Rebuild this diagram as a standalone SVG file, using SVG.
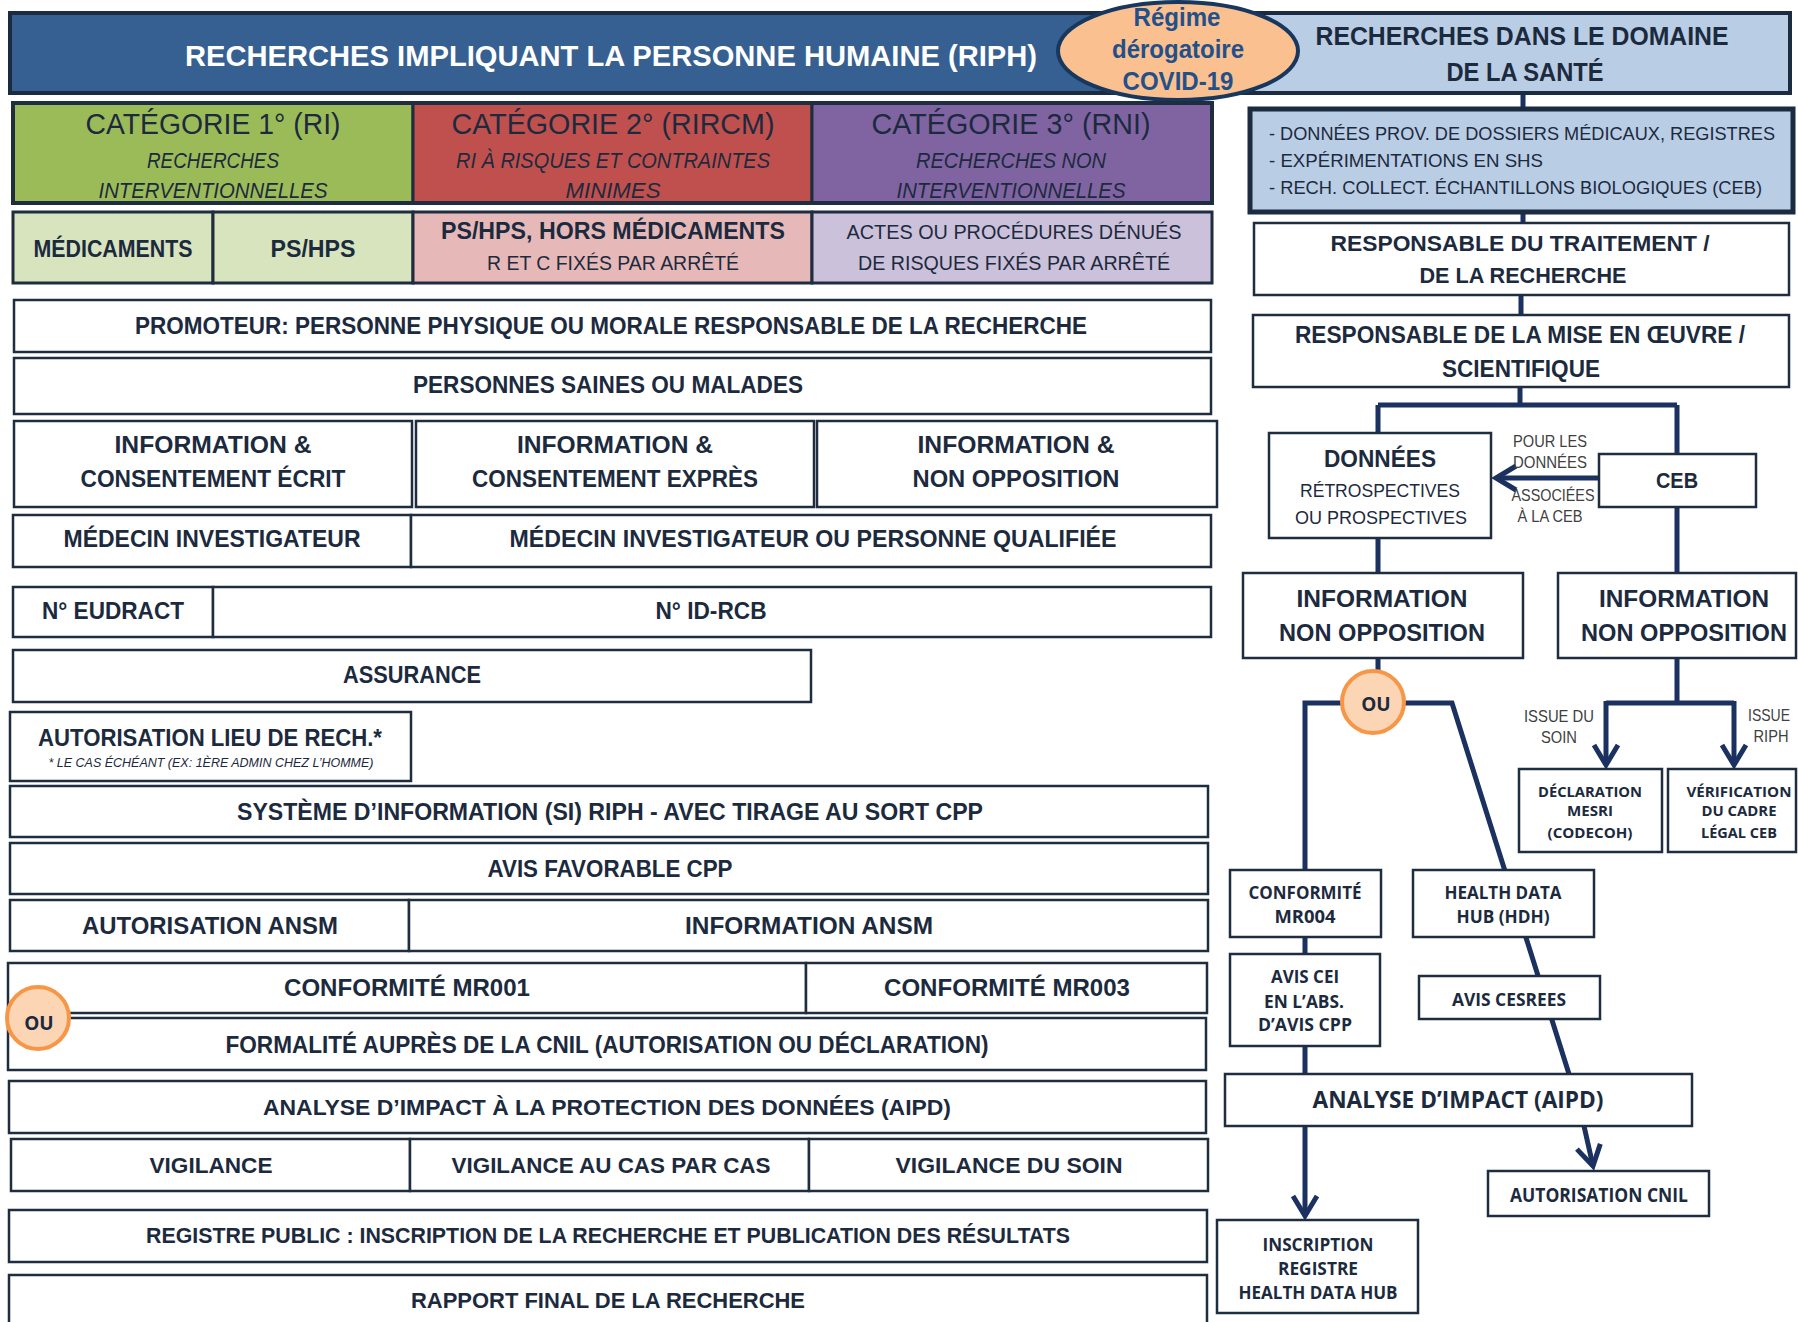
<svg xmlns="http://www.w3.org/2000/svg" width="1798" height="1322" viewBox="0 0 1798 1322">
<defs>
<style>
.t{font-family:"Liberation Sans Narrow","Liberation Sans",Arial,sans-serif;fill:#1C2A3E;text-anchor:middle}
.b{font-weight:bold}
.i{font-style:italic}
.o{font-family:"Open Sans","Liberation Sans",Arial,sans-serif;font-weight:bold;fill:#1C2A3E;text-anchor:middle}
.box{fill:#fff;stroke:#1F2D40;stroke-width:2.5}
.con{fill:none;stroke:#1B3160;stroke-width:5}
.lbl{font-family:"Liberation Sans Narrow","Liberation Sans",Arial,sans-serif;fill:#404040;text-anchor:middle}
.ou{fill:#FCD5B4;stroke:#F79646;stroke-width:4}
</style>
<marker id="ah" markerUnits="userSpaceOnUse" markerWidth="24" markerHeight="26" refX="20" refY="12" orient="auto" overflow="visible"><path d="M0,0 L20,12 L0,24" fill="none" stroke="#1B3160" stroke-width="5"/></marker>
</defs>
<rect width="1798" height="1322" fill="#fff"/>

<g id="connectors">
<path class="con" d="M1523,93 V109 M1523,212 V223 M1521,295 V315 M1520,387 V405 M1378,405 H1677 M1378,405 V433 M1677,405 V454"/>
<path class="con" d="M1599,478 H1496" marker-end="url(#ah)"/>
<path class="con" d="M1378,538 V573 M1677,507 V573 M1378,658 V672"/>
<path class="con" d="M1305,870 V703 H1452 L1569,1074"/>
<path class="con" d="M1305,937 V954 M1305,1046 V1074"/>
<path class="con" d="M1305,1126 V1216" marker-end="url(#ah)"/>
<path class="con" d="M1584,1126 L1593,1166" marker-end="url(#ah)"/>
<path class="con" d="M1677,658 V703 M1606,703 H1734"/>
<path class="con" d="M1606,701 V765" marker-end="url(#ah)"/>
<path class="con" d="M1734,701 V765" marker-end="url(#ah)"/>
</g>

<g id="riph-banner">
<rect x="10" y="13" width="1250" height="80" fill="#376092" stroke="#1B2B40" stroke-width="4"/>
<text class="t b" x="611" y="66" font-size="29" style="fill:#fff" textLength="852" lengthAdjust="spacingAndGlyphs">RECHERCHES IMPLIQUANT LA PERSONNE HUMAINE (RIPH)</text>
</g>
<g id="sante-header">
<rect x="1253" y="13" width="537" height="80" fill="#B9CDE5" stroke="#1B2B40" stroke-width="4"/>
<text class="t b" x="1522" y="45" font-size="25" textLength="413" lengthAdjust="spacingAndGlyphs">RECHERCHES DANS  LE DOMAINE</text>
<text class="t b" x="1525" y="81" font-size="25" textLength="157" lengthAdjust="spacingAndGlyphs">DE LA SANTÉ</text>
</g>
<g id="covid">
<ellipse cx="1178" cy="51" rx="120" ry="49" fill="#FAC090" stroke="#17375E" stroke-width="4"/>
<text class="t" x="1177" y="26" font-size="25" style="fill:#24508A;font-weight:600" textLength="87" lengthAdjust="spacingAndGlyphs">Régime</text>
<text class="t" x="1178" y="58" font-size="25" style="fill:#24508A;font-weight:600" textLength="132" lengthAdjust="spacingAndGlyphs">dérogatoire</text>
<text class="t" x="1178" y="90" font-size="25" style="fill:#24508A;font-weight:600" textLength="111" lengthAdjust="spacingAndGlyphs">COVID-19</text>
</g>

<g id="cat1">
<rect x="13" y="103" width="400" height="100" fill="#9BBB59" stroke="#1F2D40" stroke-width="3"/>
<text class="t" x="213" y="134" font-size="29" textLength="255" lengthAdjust="spacingAndGlyphs">CATÉGORIE 1° (RI)</text>
<text class="t i" x="213" y="168" font-size="22" textLength="132" lengthAdjust="spacingAndGlyphs">RECHERCHES</text>
<text class="t i" x="213" y="198" font-size="22" textLength="229" lengthAdjust="spacingAndGlyphs">INTERVENTIONNELLES</text>
</g>
<g id="cat2">
<rect x="413" y="103" width="399" height="100" fill="#C0504D" stroke="#1F2D40" stroke-width="3"/>
<text class="t" x="613" y="134" font-size="29" textLength="323" lengthAdjust="spacingAndGlyphs">CATÉGORIE 2° (RIRCM)</text>
<text class="t i" x="613" y="168" font-size="22" textLength="314" lengthAdjust="spacingAndGlyphs">RI À RISQUES ET CONTRAINTES</text>
<text class="t i" x="613" y="198" font-size="22" textLength="95" lengthAdjust="spacingAndGlyphs">MINIMES</text>
</g>
<g id="cat3">
<rect x="812" y="103" width="400" height="100" fill="#8064A2" stroke="#1F2D40" stroke-width="3"/>
<text class="t" x="1011" y="134" font-size="29" textLength="279" lengthAdjust="spacingAndGlyphs">CATÉGORIE 3° (RNI)</text>
<text class="t i" x="1011" y="168" font-size="22" textLength="190" lengthAdjust="spacingAndGlyphs">RECHERCHES NON</text>
<text class="t i" x="1011" y="198" font-size="22" textLength="229" lengthAdjust="spacingAndGlyphs">INTERVENTIONNELLES</text>
</g>
<rect x="13" y="103" width="1199" height="100" fill="none" stroke="#1F2D40" stroke-width="4"/>

<g id="medicaments">
<rect x="13" y="212" width="200" height="71" fill="#D7E4BD" stroke="#1F2D40" stroke-width="3"/>
<text class="t b" x="113" y="257" font-size="23" textLength="159" lengthAdjust="spacingAndGlyphs">MÉDICAMENTS</text>
</g>
<g id="pshps">
<rect x="213" y="212" width="200" height="71" fill="#D7E4BD" stroke="#1F2D40" stroke-width="3"/>
<text class="t b" x="313" y="257" font-size="23" textLength="85" lengthAdjust="spacingAndGlyphs">PS/HPS</text>
</g>
<g id="pshps-hors">
<rect x="413" y="212" width="399" height="71" fill="#E6B9B8" stroke="#1F2D40" stroke-width="3"/>
<text class="t b" x="613" y="239" font-size="23" textLength="344" lengthAdjust="spacingAndGlyphs">PS/HPS, HORS MÉDICAMENTS</text>
<text class="t" x="613" y="270" font-size="20" textLength="252" lengthAdjust="spacingAndGlyphs">R ET C FIXÉS PAR ARRÊTÉ</text>
</g>
<g id="actes">
<rect x="812" y="212" width="400" height="71" fill="#CCC1DA" stroke="#1F2D40" stroke-width="3"/>
<text class="t" x="1014" y="239" font-size="20" textLength="335" lengthAdjust="spacingAndGlyphs">ACTES OU PROCÉDURES DÉNUÉS</text>
<text class="t" x="1014" y="270" font-size="20" textLength="312" lengthAdjust="spacingAndGlyphs">DE RISQUES FIXÉS PAR ARRÊTÉ</text>
</g>

<g id="promoteur"><rect class="box" x="14" y="300" width="1197" height="52"/>
<text class="t b" x="611" y="334" font-size="23" textLength="952" lengthAdjust="spacingAndGlyphs">PROMOTEUR: PERSONNE PHYSIQUE OU MORALE RESPONSABLE DE LA RECHERCHE</text></g>
<g id="personnes"><rect class="box" x="14" y="358" width="1197" height="56"/>
<text class="t b" x="608" y="393" font-size="23" textLength="390" lengthAdjust="spacingAndGlyphs">PERSONNES SAINES OU MALADES</text></g>
<g id="info-ecrit"><rect class="box" x="14" y="421" width="398" height="86"/>
<text class="t b" x="213" y="453" font-size="24" textLength="197" lengthAdjust="spacingAndGlyphs">INFORMATION &amp;</text>
<text class="t b" x="213" y="487" font-size="24" textLength="265" lengthAdjust="spacingAndGlyphs">CONSENTEMENT ÉCRIT</text></g>
<g id="info-expres"><rect class="box" x="416" y="421" width="398" height="86"/>
<text class="t b" x="615" y="453" font-size="24" textLength="196" lengthAdjust="spacingAndGlyphs">INFORMATION &amp;</text>
<text class="t b" x="615" y="487" font-size="24" textLength="286" lengthAdjust="spacingAndGlyphs">CONSENTEMENT EXPRÈS</text></g>
<g id="info-nonopp"><rect class="box" x="817" y="421" width="400" height="86"/>
<text class="t b" x="1016" y="453" font-size="24" textLength="197" lengthAdjust="spacingAndGlyphs">INFORMATION &amp;</text>
<text class="t b" x="1016" y="487" font-size="24" textLength="207" lengthAdjust="spacingAndGlyphs">NON OPPOSITION</text></g>
<g id="medecin"><rect class="box" x="13" y="515" width="398" height="52"/>
<text class="t b" x="212" y="547" font-size="23" textLength="297" lengthAdjust="spacingAndGlyphs">MÉDECIN INVESTIGATEUR</text></g>
<g id="medecin-qualifie"><rect class="box" x="411" y="515" width="800" height="52"/>
<text class="t b" x="813" y="547" font-size="23" textLength="607" lengthAdjust="spacingAndGlyphs">MÉDECIN INVESTIGATEUR  OU PERSONNE QUALIFIÉE</text></g>
<g id="eudract"><rect class="box" x="13" y="587" width="200" height="50"/>
<text class="t b" x="113" y="619" font-size="23" textLength="142" lengthAdjust="spacingAndGlyphs">N° EUDRACT</text></g>
<g id="idrcb"><rect class="box" x="213" y="587" width="998" height="50"/>
<text class="t b" x="711" y="619" font-size="23" textLength="111" lengthAdjust="spacingAndGlyphs">N° ID-RCB</text></g>
<g id="assurance"><rect class="box" x="13" y="650" width="798" height="52"/>
<text class="t b" x="412" y="683" font-size="23" textLength="138" lengthAdjust="spacingAndGlyphs">ASSURANCE</text></g>
<g id="autorisation-lieu"><rect class="box" x="10" y="712" width="401" height="69"/>
<text class="t b" x="210" y="746" font-size="23" textLength="344" lengthAdjust="spacingAndGlyphs">AUTORISATION LIEU DE RECH.*</text>
<text class="t i" x="211" y="767" font-size="12" textLength="325" lengthAdjust="spacingAndGlyphs">* LE CAS ÉCHÉANT (EX: 1ÈRE ADMIN CHEZ L’HOMME)</text></g>
<g id="si-riph"><rect class="box" x="10" y="786" width="1198" height="51"/>
<text class="t b" x="610" y="820" font-size="23" textLength="746" lengthAdjust="spacingAndGlyphs">SYSTÈME D’INFORMATION (SI) RIPH - AVEC TIRAGE AU SORT CPP</text></g>
<g id="avis-cpp"><rect class="box" x="10" y="843" width="1198" height="51"/>
<text class="t b" x="610" y="877" font-size="23" textLength="245" lengthAdjust="spacingAndGlyphs">AVIS FAVORABLE CPP</text></g>
<g id="aut-ansm"><rect class="box" x="10" y="900" width="399" height="51"/>
<text class="t b" x="210" y="934" font-size="23" textLength="256" lengthAdjust="spacingAndGlyphs">AUTORISATION ANSM</text></g>
<g id="info-ansm"><rect class="box" x="409" y="900" width="799" height="51"/>
<text class="t b" x="809" y="934" font-size="23" textLength="248" lengthAdjust="spacingAndGlyphs">INFORMATION ANSM</text></g>
<g id="mr001"><rect class="box" x="8" y="963" width="798" height="50"/>
<text class="t b" x="407" y="996" font-size="23" textLength="246" lengthAdjust="spacingAndGlyphs">CONFORMITÉ MR001</text></g>
<g id="mr003"><rect class="box" x="806" y="963" width="401" height="50"/>
<text class="t b" x="1007" y="996" font-size="23" textLength="246" lengthAdjust="spacingAndGlyphs">CONFORMITÉ MR003</text></g>
<g id="formalite-cnil"><rect class="box" x="8" y="1018" width="1198" height="52"/>
<text class="t b" x="607" y="1053" font-size="23" textLength="763" lengthAdjust="spacingAndGlyphs">FORMALITÉ AUPRÈS DE LA CNIL (AUTORISATION OU  DÉCLARATION)</text></g>
<g id="ou-left"><circle class="ou" cx="38" cy="1018" r="31"/>
<text class="o" x="39" y="1030" font-size="19">OU</text></g>
<g id="aipd-riph"><rect class="box" x="9" y="1081" width="1197" height="52"/>
<text class="t b" x="607" y="1115" font-size="22" textLength="688" lengthAdjust="spacingAndGlyphs">ANALYSE D’IMPACT À LA PROTECTION DES DONNÉES (AIPD)</text></g>
<g id="vigilance"><rect class="box" x="11" y="1139" width="399" height="52"/>
<text class="t b" x="211" y="1173" font-size="22" textLength="123" lengthAdjust="spacingAndGlyphs">VIGILANCE</text></g>
<g id="vigilance-cas"><rect class="box" x="410" y="1139" width="399" height="52"/>
<text class="t b" x="611" y="1173" font-size="22" textLength="319" lengthAdjust="spacingAndGlyphs">VIGILANCE AU CAS PAR CAS</text></g>
<g id="vigilance-soin"><rect class="box" x="809" y="1139" width="399" height="52"/>
<text class="t b" x="1009" y="1173" font-size="22" textLength="227" lengthAdjust="spacingAndGlyphs">VIGILANCE DU SOIN</text></g>
<g id="registre"><rect class="box" x="9" y="1210" width="1198" height="52"/>
<text class="t b" x="608" y="1243" font-size="22" textLength="924" lengthAdjust="spacingAndGlyphs">REGISTRE PUBLIC : INSCRIPTION DE LA RECHERCHE ET PUBLICATION DES RÉSULTATS</text></g>
<g id="rapport"><rect class="box" x="9" y="1275" width="1198" height="60"/>
<text class="t b" x="608" y="1308" font-size="22" textLength="394" lengthAdjust="spacingAndGlyphs">RAPPORT FINAL DE LA RECHERCHE</text></g>

<g id="details-sante">
<rect x="1250" y="109" width="543" height="103" fill="#B9CDE5" stroke="#1B2B40" stroke-width="5"/>
<text class="t" x="1269" y="140" font-size="19" style="text-anchor:start" textLength="506" lengthAdjust="spacingAndGlyphs">- DONNÉES PROV. DE DOSSIERS MÉDICAUX, REGISTRES</text>
<text class="t" x="1269" y="167" font-size="19" style="text-anchor:start" textLength="274" lengthAdjust="spacingAndGlyphs">- EXPÉRIMENTATIONS EN SHS</text>
<text class="t" x="1269" y="194" font-size="19" style="text-anchor:start" textLength="493" lengthAdjust="spacingAndGlyphs">- RECH. COLLECT. ÉCHANTILLONS BIOLOGIQUES (CEB)</text>
</g>
<g id="resp-traitement"><rect class="box" x="1254" y="223" width="535" height="72"/>
<text class="t b" x="1520" y="251" font-size="22" textLength="379" lengthAdjust="spacingAndGlyphs">RESPONSABLE DU TRAITEMENT /</text>
<text class="t b" x="1523" y="283" font-size="22" textLength="207" lengthAdjust="spacingAndGlyphs">DE LA RECHERCHE</text></g>
<g id="resp-mise"><rect class="box" x="1253" y="315" width="536" height="72"/>
<text class="t b" x="1520" y="343" font-size="23" textLength="450" lengthAdjust="spacingAndGlyphs">RESPONSABLE DE LA MISE EN ŒUVRE /</text>
<text class="t b" x="1521" y="377" font-size="23" textLength="158" lengthAdjust="spacingAndGlyphs">SCIENTIFIQUE</text></g>
<g id="donnees"><rect class="box" x="1269" y="433" width="222" height="105"/>
<text class="t b" x="1380" y="467" font-size="24" textLength="112" lengthAdjust="spacingAndGlyphs">DONNÉES</text>
<text class="t" x="1380" y="497" font-size="19" textLength="160" lengthAdjust="spacingAndGlyphs">RÉTROSPECTIVES</text>
<text class="t" x="1381" y="524" font-size="19" textLength="172" lengthAdjust="spacingAndGlyphs">OU PROSPECTIVES</text></g>
<g id="ceb"><rect class="box" x="1599" y="454" width="157" height="53"/>
<text class="t b" x="1677" y="488" font-size="22" textLength="42" lengthAdjust="spacingAndGlyphs">CEB</text></g>
<g id="arrow-label">
<text class="lbl" x="1550" y="447" font-size="17" textLength="74" lengthAdjust="spacingAndGlyphs">POUR LES</text>
<text class="lbl" x="1550" y="468" font-size="17" textLength="74" lengthAdjust="spacingAndGlyphs">DONNÉES</text>
<text class="lbl" x="1553" y="501" font-size="17" textLength="83" lengthAdjust="spacingAndGlyphs">ASSOCIÉES</text>
<text class="lbl" x="1550" y="522" font-size="17" textLength="65" lengthAdjust="spacingAndGlyphs">À LA CEB</text>
</g>
<g id="info-donnees"><rect class="box" x="1243" y="573" width="280" height="85"/>
<text class="t b" x="1382" y="607" font-size="23" textLength="171" lengthAdjust="spacingAndGlyphs">INFORMATION</text>
<text class="t b" x="1382" y="641" font-size="23" textLength="206" lengthAdjust="spacingAndGlyphs">NON OPPOSITION</text></g>
<g id="info-ceb"><rect class="box" x="1558" y="573" width="238" height="85"/>
<text class="t b" x="1684" y="607" font-size="23" textLength="170" lengthAdjust="spacingAndGlyphs">INFORMATION</text>
<text class="t b" x="1684" y="641" font-size="23" textLength="206" lengthAdjust="spacingAndGlyphs">NON OPPOSITION</text></g>
<g id="ou-right"><circle class="ou" cx="1373" cy="702" r="31"/>
<text class="o" x="1376" y="711" font-size="19">OU</text></g>
<g id="issue-labels">
<text class="lbl" x="1559" y="722" font-size="17" textLength="70" lengthAdjust="spacingAndGlyphs">ISSUE DU</text>
<text class="lbl" x="1559" y="743" font-size="17" textLength="36" lengthAdjust="spacingAndGlyphs">SOIN</text>
<text class="lbl" x="1769" y="721" font-size="17" textLength="42" lengthAdjust="spacingAndGlyphs">ISSUE</text>
<text class="lbl" x="1771" y="742" font-size="17" textLength="35" lengthAdjust="spacingAndGlyphs">RIPH</text>
</g>
<g id="declaration-mesri"><rect class="box" x="1519" y="769" width="143" height="83"/>
<text class="o" x="1590" y="797" font-size="15" textLength="104" lengthAdjust="spacingAndGlyphs">DÉCLARATION</text>
<text class="o" x="1590" y="816" font-size="15" textLength="46" lengthAdjust="spacingAndGlyphs">MESRI</text>
<text class="o" x="1590" y="838" font-size="15" textLength="85" lengthAdjust="spacingAndGlyphs">(CODECOH)</text></g>
<g id="verification-ceb"><rect class="box" x="1668" y="769" width="128" height="83"/>
<text class="o" x="1739" y="797" font-size="15" textLength="105" lengthAdjust="spacingAndGlyphs">VÉRIFICATION</text>
<text class="o" x="1739" y="816" font-size="15" textLength="75" lengthAdjust="spacingAndGlyphs">DU CADRE</text>
<text class="o" x="1739" y="838" font-size="15" textLength="76" lengthAdjust="spacingAndGlyphs">LÉGAL CEB</text></g>
<g id="mr004"><rect class="box" x="1230" y="870" width="151" height="67"/>
<text class="o" x="1305" y="899" font-size="18" textLength="113" lengthAdjust="spacingAndGlyphs">CONFORMITÉ</text>
<text class="o" x="1305" y="923" font-size="18" textLength="61" lengthAdjust="spacingAndGlyphs">MR004</text></g>
<g id="avis-cei"><rect class="box" x="1230" y="954" width="150" height="92"/>
<text class="o" x="1305" y="983" font-size="18" textLength="68" lengthAdjust="spacingAndGlyphs">AVIS CEI</text>
<text class="o" x="1304" y="1008" font-size="18" textLength="80" lengthAdjust="spacingAndGlyphs">EN L’ABS.</text>
<text class="o" x="1305" y="1031" font-size="18" textLength="94" lengthAdjust="spacingAndGlyphs">D’AVIS CPP</text></g>
<g id="hdh"><rect class="box" x="1413" y="870" width="181" height="67"/>
<text class="o" x="1503" y="899" font-size="18" textLength="117" lengthAdjust="spacingAndGlyphs">HEALTH DATA</text>
<text class="o" x="1503" y="923" font-size="18" textLength="93" lengthAdjust="spacingAndGlyphs">HUB (HDH)</text></g>
<g id="cesrees"><rect class="box" x="1419" y="976" width="181" height="43"/>
<text class="o" x="1509" y="1006" font-size="18" textLength="114" lengthAdjust="spacingAndGlyphs">AVIS CESREES</text></g>
<g id="aipd-sante"><rect class="box" x="1225" y="1074" width="467" height="52"/>
<text class="o" x="1458" y="1108" font-size="23" textLength="291" lengthAdjust="spacingAndGlyphs">ANALYSE  D’IMPACT (AIPD)</text></g>
<g id="aut-cnil"><rect class="box" x="1488" y="1171" width="221" height="45"/>
<text class="o" x="1599" y="1202" font-size="19" textLength="178" lengthAdjust="spacingAndGlyphs">AUTORISATION CNIL</text></g>
<g id="inscription-hdh"><rect class="box" x="1217" y="1220" width="201" height="93"/>
<text class="o" x="1318" y="1251" font-size="18" textLength="111" lengthAdjust="spacingAndGlyphs">INSCRIPTION</text>
<text class="o" x="1318" y="1275" font-size="18" textLength="80" lengthAdjust="spacingAndGlyphs">REGISTRE</text>
<text class="o" x="1318" y="1299" font-size="18" textLength="159" lengthAdjust="spacingAndGlyphs">HEALTH DATA HUB</text></g>
</svg>
